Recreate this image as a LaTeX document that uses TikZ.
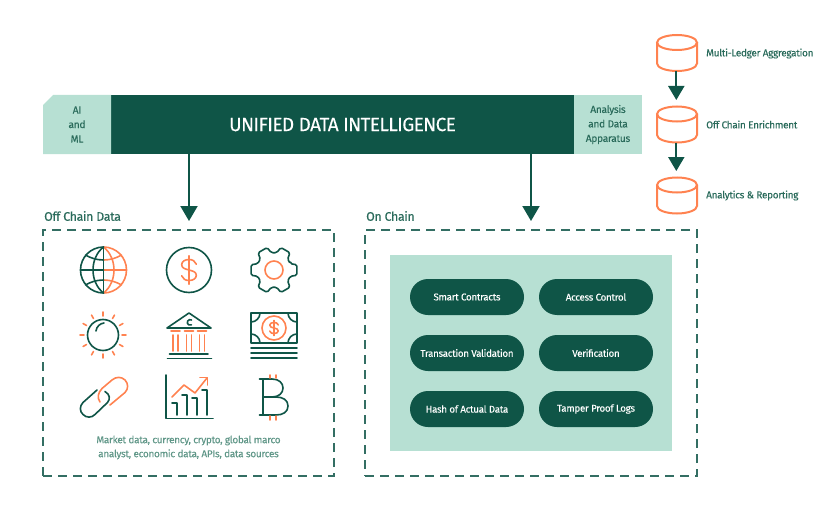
\documentclass[tikz,border=0pt]{standalone}
\usepackage{fontspec}
\setmainfont{Fira Sans}[LetterSpace=-3,FakeBold=0.12]
\usetikzlibrary{arrows.meta,calc}
\definecolor{dk}{HTML}{0F5547}
\definecolor{lt}{HTML}{B7E0D3}
\definecolor{og}{HTML}{FF8250}
\definecolor{tx}{HTML}{2A6B5B}
\definecolor{sm}{HTML}{5F9687}
\tikzset{
  bandside/.style={fill=lt,text=tx,font=\fontsize{10.2}{14.5}\selectfont,align=center,inner sep=0pt},
  bandmain/.style={fill=dk,text=white,font=\fontsize{19}{22}\selectfont,inner sep=0pt,minimum width=463pt,minimum height=59pt},
  dashbox/.style={draw=dk!85!white,line width=1.7pt,dash pattern=on 9pt off 6pt,inner sep=0pt},
  pill/.style={fill=dk,text=white,rounded corners=18pt,minimum width=114pt,minimum height=36pt,inner sep=0pt,font=\fontsize{9.8}{12}\selectfont},
  cylbody/.style={minimum width=40pt,minimum height=36pt,inner sep=0pt,outer sep=0pt},
  cylline/.style={draw=og,line width=2pt},
  flow/.style={draw=dk,line width=2pt,-{Triangle[length=15pt,width=17pt]}},
  smallflow/.style={draw=dk,line width=2pt,-{Triangle[length=14pt,width=16pt]}},
  caption/.style={text=tx,font=\fontsize{10}{12}\selectfont,anchor=west,inner sep=0pt},
  heading/.style={text=tx,font=\fontsize{12.4}{14}\selectfont,anchor=west,inner sep=0pt},
  dkl/.style={draw=dk,line width=1.6pt,line cap=round,line join=round},
  ogl/.style={draw=og,line width=1.6pt,line cap=round,line join=round},
  pics/dollarsign/.style={code={
    \draw[ogl] (.85,-.55) .. controls (.75,-.85) and (.4,-1) .. (0,-1) .. controls (-.5,-1) and (-.85,-.8) .. (-.85,-.5)
      .. controls (-.85,-.15) and (-.4,-.1) .. (0,0) .. controls (.4,.1) and (.85,.15) .. (.85,.5)
      .. controls (.85,.8) and (.5,1) .. (0,1) .. controls (-.4,1) and (-.75,.85) .. (-.85,.55);
    \draw[ogl] (0,-1.35) -- (0,1.35);
  }},
  pics/globehalf/.style={code={
    \draw[#1] (0,-23) arc (-90:90:23);
    \draw[#1] (0,-23) .. controls (14,-12) and (14,12) .. (0,23);
    \draw[#1] (0,0) -- (23,0);
    \draw[#1] (0,-10) .. controls (7,-10) and (13,-12) .. (18,-15);
    \draw[#1] (0,10) .. controls (7,10) and (13,12) .. (18,15);
  }}
}
\newcommand\cylat[2]{%
  \node[cylbody] (#1) at (677,#2) {};
  \draw[cylline] ($(#1.north)+(0,7.5)$) ellipse (20 and 7.5);
  \draw[cylline] ($(#1.north west)+(0,7.5)$) -- ($(#1.south west)+(0,-7.5)$) arc (180:0:20 and 7.5) -- ($(#1.north east)+(0,7.5)$);
}
\begin{document}
\begin{tikzpicture}[x=1pt,y=1pt,yscale=-1]
\useasboundingbox (0,0) rectangle (832,524);
% band
\node[bandmain] (bar) at (342.5,124.5) {UNIFIED DATA INTELLIGENCE};
\fill[lt] (43,105) -- (53,95) -- (111,95) -- (111,154) -- (43,154) -- cycle;
\node[bandside,text width=68pt] (ai) at (77,124.5) {AI\\and\\ML};
\node[bandside,minimum width=68pt,minimum height=59pt] (ana) at (608,124.5) {Analysis\\and Data\\Apparatus};
% boxes
\node[dashbox,minimum width=291pt,minimum height=246pt] (off) at (188.5,353) {};
\node[dashbox,minimum width=332pt,minimum height=246pt] (on) at (531,353) {};
\node[heading] (offt) at (44,216) {Off Chain Data};
\node[heading] (ont) at (366,216) {On Chain};
\coordinate (t1) at (189,221);
\coordinate (t2) at (531,221);
\draw[flow] (t1 |- bar.south) -- (t1);
\draw[flow] (t2 |- bar.south) -- (t2);
% on chain
\node[fill=lt,minimum width=282pt,minimum height=196pt,inner sep=0pt] (panel) at (531,353) {};
\node[pill] (p1) at (467,297) {Smart Contracts};
\node[pill] (p2) at (596,297) {Access Control};
\node[pill] (p3) at (467,353) {Transaction Validation};
\node[pill] (p4) at (596,353) {Verification};
\node[pill] (p5) at (467,409) {Hash of Actual Data};
\node[pill] (p6) at (596,409) {Tamper Proof Logs};
% cylinders
\cylat{c1}{53}
\cylat{c2}{124.5}
\cylat{c3}{195.5}
\coordinate (a1) at (676.3,100);
\coordinate (a2) at (676.3,171);
\draw[smallflow] (a1 |- c1.south) -- (a1);
\draw[smallflow] (a2 |- c2.south) -- (a2);
\node[caption] (l1) at (706,53.5) {Multi-Ledger Aggregation};
\node[caption] (l2) at (706,124.5) {Off Chain Enrichment};
\node[caption] (l3) at (706,195.5) {Analytics \& Reporting};
% globe
\pic at (103.5,270) {globehalf={ogl}};
\pic[xscale=-1] at (103.5,270) {globehalf={dkl}};
\draw[dkl] (103.5,247) -- (103.5,293);
% dollar circle
\draw[dkl] (189,270) circle (22.5);
\pic[xscale=8.6,yscale=-10.5] at (189,270) {dollarsign};
% gear
\begin{scope}[shift={(274,270)}]
\draw[dkl,rounded corners=1.6pt] (-21:17.5) \foreach \a in {0,60,...,300} { -- (\a-21:17.5) -- (\a-13:23.5) -- (\a+13:23.5) -- (\a+21:17.5) } -- cycle;
\draw[ogl] (0,0) circle (9);
\end{scope}
% sun
\begin{scope}[shift={(103,335)}]
\draw[dkl] (0,0) circle (15.5);
\draw[dkl] (-7,-4) .. controls (-6.5,-8.5) and (-3,-11.5) .. (1,-12);
\foreach \a in {0,30,...,330} \draw[ogl] (\a:19) -- (\a:23);
\end{scope}
% bank
\draw[dkl] (167,328) -- (189,313) -- (211,328) -- cycle;
\draw[dkl] (191.5,320) arc (-60:-300:2.8);
\foreach \x in {175.5,189,202} {
  \draw[ogl] (\x-4.5,331) -- (\x+4.5,331);
  \draw[ogl] (\x-2.4,335) -- (\x-2.4,351);
  \draw[ogl] (\x+2.4,335) -- (\x+2.4,351);
}
\draw[dkl] (169.5,354) -- (208,354);
\draw[dkl] (167.5,358.5) -- (211.5,358.5);
% bill
\draw[dkl] (251,313) rectangle (297,343);
\draw[ogl] (274,328) circle (12);
\pic[xscale=5,yscale=-5.6] at (274,328) {dollarsign};
\draw[dkl] (251,322) arc (90:0:9);
\draw[dkl] (297,322) arc (90:180:9);
\draw[dkl] (251,334) arc (-90:0:9);
\draw[dkl] (297,334) arc (-90:-180:9);
\foreach \y in {348,353,358} \draw[dkl] (251,\y) -- (297,\y);
% link
\draw[dkl] (97,390) -- (83,402.5) .. controls (79.5,406) and (79.5,411.5) .. (83,414.5) .. controls (86.5,418) and (91.5,418) .. (95,414.5) -- (107.5,402.5) .. controls (110.5,399) and (110,394.5) .. (105,391.5);
\draw[ogl] (100,402) .. controls (97,398) and (98,392.5) .. (102,388.5) -- (112,380) .. controls (116,376.5) and (121.5,376.5) .. (125,380) .. controls (128.5,383.5) and (128.5,389) .. (125,392.5) -- (110,405);
% chart
\draw[dkl] (166,375) -- (166,418.5) -- (213,418.5);
\draw[dkl] (172,403) -- (177,403) -- (177,415);
\draw[dkl] (182,395) -- (187,395) -- (187,415);
\draw[dkl] (192,398) -- (197,398) -- (197,415);
\draw[dkl] (202,390) -- (207,390) -- (207,415);
\draw[ogl] (172,397) -- (184,385) -- (195,393) -- (207,378);
\draw[ogl] (200,377.5) -- (207.5,377.5) -- (207.5,385);
% bitcoin
\draw[dkl] (263,379) -- (263,415);
\draw[dkl] (259.5,379) -- (272,379) .. controls (279,379) and (283,383) .. (283,388) .. controls (283,393) and (279,397) .. (272,397) -- (263,397);
\draw[dkl] (272,397) -- (276,397) .. controls (283,397) and (288,400) .. (288,406) .. controls (288,412) and (283,415) .. (276,415) -- (259.5,415);
\foreach \x in {270,276} {
  \draw[ogl] (\x,375) -- (\x,378);
  \draw[ogl] (\x,416) -- (\x,420);
}
\node[text=sm,align=center,font=\fontsize{10}{14}\selectfont,inner sep=0pt] (desc) at (188.5,447.5) {Market data, currency, crypto, global marco\\analyst, economic data, APIs, data sources};
\end{tikzpicture}
\end{document}
